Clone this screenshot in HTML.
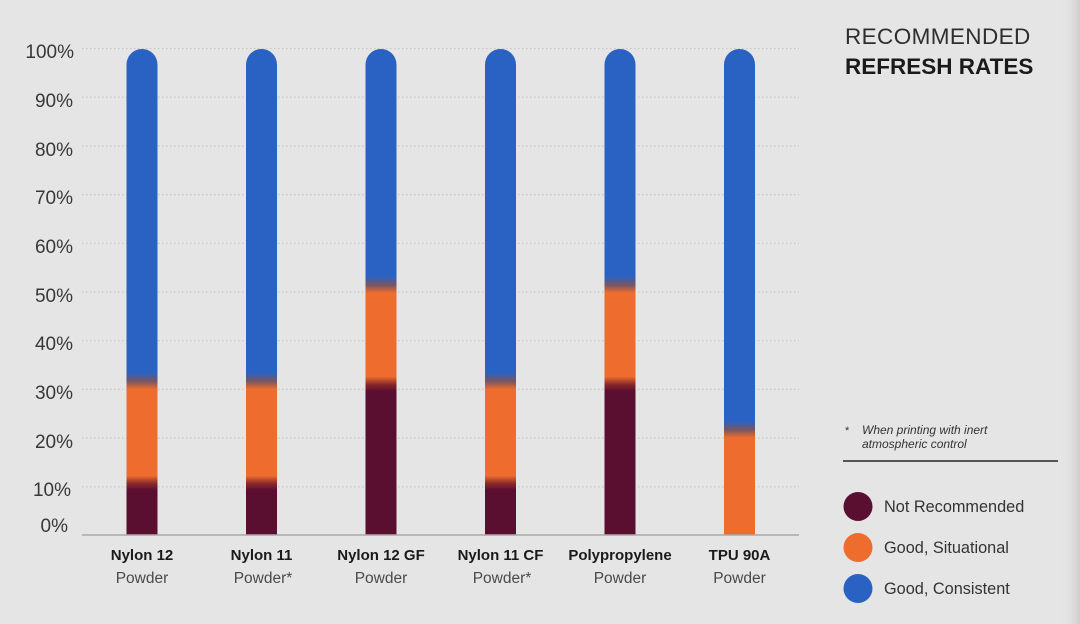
<!DOCTYPE html>
<html>
<head>
<meta charset="utf-8">
<style>
  html,body{margin:0;padding:0;}
  body{width:1080px;height:624px;overflow:hidden;background:#e5e5e5;}
  svg{display:block;}
  text{font-family:"Liberation Sans", Arial, sans-serif;}
</style>
</head>
<body>
<svg width="1080" height="624" viewBox="0 0 1080 624" xmlns="http://www.w3.org/2000/svg">
  <defs>
    <linearGradient id="edge" x1="0" y1="0" x2="1" y2="0">
      <stop offset="0" stop-color="#e5e5e5" stop-opacity="0"/>
      <stop offset="1" stop-color="#cfcfcf" stop-opacity="1"/>
    </linearGradient>
    <!-- Nylon 12 / 11 / 11 CF -->
    <linearGradient id="g1" gradientUnits="userSpaceOnUse" x1="0" y1="535" x2="0" y2="49">
      <stop offset="0" stop-color="#5a0e30"/>
      <stop offset="0.092" stop-color="#5a0e30"/>
      <stop offset="0.106" stop-color="#8a2a2a"/>
      <stop offset="0.122" stop-color="#ee6c2e"/>
      <stop offset="0.300" stop-color="#ee6c2e"/>
      <stop offset="0.316" stop-color="#7a5660"/>
      <stop offset="0.334" stop-color="#2a62c3"/>
      <stop offset="1" stop-color="#2a62c3"/>
    </linearGradient>
    <!-- Nylon 12 GF / Polypropylene -->
    <linearGradient id="g2" gradientUnits="userSpaceOnUse" x1="0" y1="535" x2="0" y2="49">
      <stop offset="0" stop-color="#5a0e30"/>
      <stop offset="0.296" stop-color="#5a0e30"/>
      <stop offset="0.310" stop-color="#8a2a2a"/>
      <stop offset="0.326" stop-color="#ee6c2e"/>
      <stop offset="0.498" stop-color="#ee6c2e"/>
      <stop offset="0.514" stop-color="#7a5660"/>
      <stop offset="0.532" stop-color="#2a62c3"/>
      <stop offset="1" stop-color="#2a62c3"/>
    </linearGradient>
    <!-- TPU 90A -->
    <linearGradient id="g3" gradientUnits="userSpaceOnUse" x1="0" y1="535" x2="0" y2="49">
      <stop offset="0" stop-color="#ee6c2e"/>
      <stop offset="0.200" stop-color="#ee6c2e"/>
      <stop offset="0.216" stop-color="#7a5660"/>
      <stop offset="0.234" stop-color="#2a62c3"/>
      <stop offset="1" stop-color="#2a62c3"/>
    </linearGradient>
  </defs>

  <rect x="0" y="0" width="1080" height="624" fill="#e5e5e5"/>
  <rect x="1060" y="0" width="20" height="624" fill="url(#edge)"/>

  <!-- gridlines -->
  <g stroke="#c6c6c6" stroke-width="1.2" stroke-dasharray="1.5 2.5">
    <line x1="82" y1="48.5" x2="799" y2="48.5"/>
    <line x1="82" y1="97.2" x2="799" y2="97.2"/>
    <line x1="82" y1="145.9" x2="799" y2="145.9"/>
    <line x1="82" y1="194.6" x2="799" y2="194.6"/>
    <line x1="82" y1="243.3" x2="799" y2="243.3"/>
    <line x1="82" y1="292.0" x2="799" y2="292.0"/>
    <line x1="82" y1="340.7" x2="799" y2="340.7"/>
    <line x1="82" y1="389.4" x2="799" y2="389.4"/>
    <line x1="82" y1="438.1" x2="799" y2="438.1"/>
    <line x1="82" y1="486.8" x2="799" y2="486.8"/>
  </g>

  <!-- y labels -->
  <g font-size="19" fill="#383838" text-anchor="end">
    <text x="74" y="58">100%</text>
    <text x="73" y="107">90%</text>
    <text x="73" y="156">80%</text>
    <text x="73" y="204">70%</text>
    <text x="73" y="253">60%</text>
    <text x="73" y="302">50%</text>
    <text x="73" y="350">40%</text>
    <text x="73" y="399">30%</text>
    <text x="73" y="448">20%</text>
    <text x="71" y="496">10%</text>
    <text x="68" y="532">0%</text>
  </g>

  <!-- bars -->
  <path d="M126.5,535 V64.5 A15.5,15.5 0 0 1 157.5,64.5 V535 Z" fill="url(#g1)"/>
  <path d="M246,535 V64.5 A15.5,15.5 0 0 1 277,64.5 V535 Z" fill="url(#g1)"/>
  <path d="M365.5,535 V64.5 A15.5,15.5 0 0 1 396.5,64.5 V535 Z" fill="url(#g2)"/>
  <path d="M485,535 V64.5 A15.5,15.5 0 0 1 516,64.5 V535 Z" fill="url(#g1)"/>
  <path d="M604.5,535 V64.5 A15.5,15.5 0 0 1 635.5,64.5 V535 Z" fill="url(#g2)"/>
  <path d="M724,535 V64.5 A15.5,15.5 0 0 1 755,64.5 V535 Z" fill="url(#g3)"/>

  <!-- axis -->
  <line x1="82" y1="535" x2="799" y2="535" stroke="#a9a9a9" stroke-width="1.5"/>

  <!-- category labels -->
  <g text-anchor="middle">
    <g font-size="15" font-weight="bold" fill="#1a1a1a">
      <text x="142" y="560">Nylon 12</text>
      <text x="261.5" y="560">Nylon 11</text>
      <text x="381" y="560">Nylon 12 GF</text>
      <text x="500.5" y="560">Nylon 11 CF</text>
      <text x="620" y="560">Polypropylene</text>
      <text x="739.5" y="560">TPU 90A</text>
    </g>
    <g font-size="15.5" fill="#4a4a4a">
      <text x="142" y="583">Powder</text>
      <text x="263" y="583">Powder*</text>
      <text x="381" y="583">Powder</text>
      <text x="502" y="583">Powder*</text>
      <text x="620" y="583">Powder</text>
      <text x="739.5" y="583">Powder</text>
    </g>
  </g>

  <!-- title -->
  <text x="845" y="44" font-size="22.5" fill="#2e2e2e" letter-spacing="0.4">RECOMMENDED</text>
  <text x="845" y="74" font-size="22.5" font-weight="bold" fill="#1a1a1a">REFRESH RATES</text>

  <!-- footnote -->
  <text x="845" y="434" font-size="11" fill="#333">*</text>
  <text x="862" y="434" font-size="12" font-style="italic" fill="#333">When printing with inert</text>
  <text x="862" y="448" font-size="12" font-style="italic" fill="#333">atmospheric control</text>
  <line x1="843" y1="461" x2="1058" y2="461" stroke="#555" stroke-width="2"/>

  <!-- legend -->
  <circle cx="858" cy="506.5" r="14.5" fill="#5a0e30"/>
  <circle cx="858" cy="547.5" r="14.5" fill="#ee6c2e"/>
  <circle cx="858" cy="588.5" r="14.5" fill="#2a62c3"/>
  <g font-size="16.3" fill="#333">
    <text x="884" y="512">Not Recommended</text>
    <text x="884" y="553">Good, Situational</text>
    <text x="884" y="594">Good, Consistent</text>
  </g>
</svg>
</body>
</html>
